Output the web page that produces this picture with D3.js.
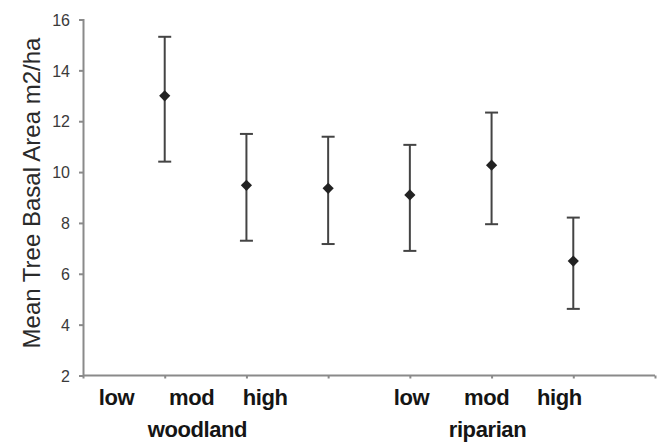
<!DOCTYPE html>
<html>
<head>
<meta charset="utf-8">
<script src="https://cdn.jsdelivr.net/npm/d3@7"></script>
<style>
    body { margin: 0; background: #fff; }
    svg { display: block; font-family: "Liberation Sans", Arial, sans-serif; }
    .y.axis text { font-size: 16px; fill: #3a3a3a; }
    .catLabel { font-size: 22px; font-weight: bold; fill: #151515; letter-spacing: -0.4px; }
    .title { font-size: 24px; fill: #2a2a2a; }
</style>
</head>
<body>
<svg></svg>
<script>
// data
const positions = [1, 2, 3, 4, 5, 6];
const means = [13.0, 9.48, 9.36, 9.1, 10.27, 6.5];
const upper = [15.32, 11.5, 11.39, 11.07, 12.34, 8.21];
const lower = [10.41, 7.3, 7.17, 6.9, 7.95, 4.62];

const yTicks = [2, 4, 6, 8, 10, 12, 14, 16];
const xTicks = [0, 1, 2, 3, 4, 5, 6, 7];

// category labels (axis units where each label sits)
const levelLabels = ["low", "mod", "high", "low", "mod", "high"];
const levelAt = [0.41, 1.33, 2.23, 4.02, 4.94, 5.83];
const groupLabels = ["woodland", "riparian"];
const groupAt = [1.4, 4.95];

function drawChart() {
    const svgWidth = 660, svgHeight = 443;
    const margin = { top: 19.5, right: 5, bottom: 67.5, left: 83 };
    const width = svgWidth - margin.left - margin.right;
    const height = svgHeight - margin.top - margin.bottom;

    const svg = d3.select("svg")
        .attr("width", svgWidth)
        .attr("height", svgHeight);

    const g = svg.append("g")
        .attr("transform", `translate(${margin.left}, ${margin.top})`);

    const x = d3.scaleLinear().domain([0, 7]).range([0, width]);
    const y = d3.scaleLinear().domain([2, 16]).range([height, 0]);

    // y axis
    const yAxis = g.append("g")
        .attr("class", "y axis")
        .call(d3.axisLeft(y).tickValues(yTicks).tickSize(4).tickPadding(9));
    yAxis.selectAll("line, path").attr("stroke", "#8a8a8a").attr("stroke-width", 2);
    yAxis.select("path").attr("d", `M-4,0.5H0.5V${height}`);
    yAxis.selectAll("text").attr("font-family", null).attr("font-size", null).attr("dy", "0.36em");

    // x axis
    const xAxis = g.append("g")
        .attr("class", "x axis")
        .attr("transform", `translate(0, ${height})`)
        .call(d3.axisBottom(x).tickValues(xTicks).tickSize(3).tickFormat(""));
    xAxis.selectAll("line, path").attr("stroke", "#8a8a8a").attr("stroke-width", 2);
    xAxis.select("path").attr("d", `M0,0H${x(7)}`);

    const points = positions.map((p, i) => ({ p, m: means[i], hi: upper[i], lo: lower[i] }));

    // error bars
    const bars = g.selectAll(".err").data(points).enter().append("g").attr("class", "err")
        .attr("stroke", "#444").attr("stroke-width", 2);
    bars.append("line")
        .attr("x1", d => x(d.p)).attr("x2", d => x(d.p))
        .attr("y1", d => y(d.hi)).attr("y2", d => y(d.lo));
    bars.append("line")
        .attr("x1", d => x(d.p) - 6.5).attr("x2", d => x(d.p) + 6.5)
        .attr("y1", d => y(d.hi)).attr("y2", d => y(d.hi));
    bars.append("line")
        .attr("x1", d => x(d.p) - 6.5).attr("x2", d => x(d.p) + 6.5)
        .attr("y1", d => y(d.lo)).attr("y2", d => y(d.lo));

    // diamond markers
    g.selectAll(".pt").data(points).enter().append("path")
        .attr("class", "pt")
        .attr("transform", d => `translate(${x(d.p)}, ${y(d.m)})`)
        .attr("d", d3.symbol(d3.symbolDiamond2, 80))
        .attr("fill", "#222");

    // level labels
    g.selectAll(".lvl").data(levelLabels).enter().append("text")
        .attr("class", "catLabel")
        .attr("text-anchor", "middle")
        .attr("x", (d, i) => x(levelAt[i]))
        .attr("y", height + 29)
        .text(d => d);

    // group labels
    g.selectAll(".grp").data(groupLabels).enter().append("text")
        .attr("class", "catLabel")
        .attr("text-anchor", "middle")
        .attr("x", (d, i) => x(groupAt[i]))
        .attr("y", height + 61)
        .text(d => d);

    // y title
    svg.append("text")
        .attr("class", "title")
        .attr("text-anchor", "middle")
        .attr("transform", `translate(40, 193) rotate(-90)`)
        .text("Mean Tree Basal Area m2/ha");
}

drawChart();
</script>
</body>
</html>
